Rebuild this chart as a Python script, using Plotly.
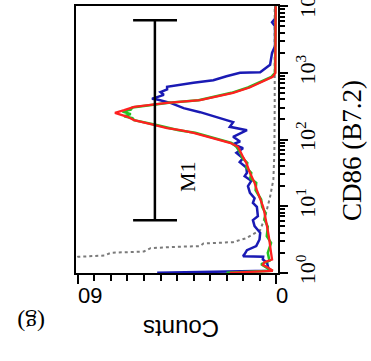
import plotly.graph_objects as go

# ---- data (log10 CD86 channel, counts) ----
red_log = [0.0, 0.03, 0.08, 0.12, 0.16, 0.2, 0.3, 0.45, 0.55, 0.69, 0.8, 0.9, 0.99, 1.1, 1.24, 1.35, 1.42, 1.5,
           1.58, 1.65, 1.72, 1.8, 1.89, 1.95, 1.99, 2.05, 2.10, 2.14, 2.17, 2.22, 2.29, 2.34, 2.37, 2.40, 2.44,
           2.47, 2.49, 2.52, 2.55, 2.59, 2.65, 2.70, 2.78, 2.85, 2.94, 3.0, 4.0]
red_cnt = [14, 1, 2.5, 4, 3.5, 1.2, 1.5, 1.8, 2.2, 2.7, 3.0, 3.5, 3.9, 4.8, 5.8, 6.5, 7.2, 7.9,
           8.5, 9, 9.8, 10.5, 11.5, 14, 17, 21, 25, 29, 33, 37, 43, 45, 47, 48.8, 46,
           44, 43, 38, 33, 23, 18, 13, 8, 4.8, 1, 0.2, 0.1]

green_log = [0.0, 0.03, 0.08, 0.13, 0.18, 0.3, 0.45, 0.55, 0.69, 0.8, 0.9, 0.99, 1.1, 1.24, 1.35, 1.42, 1.5,
             1.58, 1.65, 1.72, 1.8, 1.89, 1.95, 1.99, 2.05, 2.10, 2.14, 2.17, 2.22, 2.29, 2.32, 2.35, 2.38,
             2.42, 2.45, 2.48, 2.52, 2.55, 2.59, 2.65, 2.70, 2.78, 2.85, 2.94, 3.0, 4.0]
green_cnt = [15, 1, 3, 4.5, 2, 2.5, 1.5, 2.8, 2.5, 3.5, 3.2, 4.2, 4.5, 6.2, 6, 7.8, 7.5,
             9, 8.7, 10.2, 10.8, 12, 13.5, 16.5, 21.5, 24.5, 29.5, 32, 36.5, 43, 43.5, 46, 44,
             46.5, 44, 43.5, 37, 32.5, 23.5, 18.5, 13.5, 8.5, 5.2, 1.4, 0.3, 0.1]

blue_log = [0.0, 0.03, 0.1, 0.15, 0.2, 0.24, 0.25, 0.28, 0.34, 0.4, 0.5, 0.6, 0.7, 0.79, 0.85, 0.99, 1.05,
            1.12, 1.2, 1.3, 1.38, 1.45, 1.5, 1.58, 1.66, 1.72, 1.8, 1.87, 1.93, 1.97, 2.04, 2.09, 2.14,
            2.19, 2.26, 2.32, 2.41, 2.47, 2.55, 2.6, 2.61, 2.67, 2.71, 2.75, 2.79, 2.85, 2.89, 2.95, 3.0,
            3.01, 3.12, 3.3, 3.4, 3.7, 3.76, 3.82, 4.0]
blue_cnt = [36, 2, 2.5, 2.7, 4, 3.9, 10, 9.5, 8.8, 6, 5, 4.8, 6.5, 7, 5.5, 5.8, 7,
            6.5, 7.9, 8.5, 7.5, 9.5, 8.8, 9, 11, 10, 12, 10, 13, 10.9, 13, 11, 8.8,
            14, 13, 17, 23, 28, 32, 36, 37.6, 34, 35, 33, 33, 25, 19, 15, 10.9,
            4.8, 1.8, 1.2, 0.3, 0.3, 1.2, 0.2, 0.2]

gray_log = [0.0, 0.2, 0.24, 0.26, 0.3, 0.32, 0.37, 0.39, 0.4, 0.44, 0.46, 0.52, 0.6, 0.64, 0.84, 1.14,
            1.4, 1.8, 2.5, 4.0]
gray_cnt = [70, 62, 60, 52, 50, 40, 38, 30, 23, 22, 13, 9, 6, 4.8, 3.3, 1.8, 0.8, 0.5, 0.4, 0.4]

# M1 gate marker (counts position, log range)
m1_count = 36.7
m1_cap = [43.3, 30.0]
m1_log = [0.79, 3.79]

count_ticks = [0, 60]
cd86_ticks = [1, 10, 100, 1000, 10000]
cd86_ticktext = ["10<sup>0</sup>", "10<sup>1</sup>", "10<sup>2</sup>", "10<sup>3</sup>", "10<sup>4</sup>"]

fig = go.Figure()

def ex(v):
    return [10 ** a for a in v]

fig.add_trace(go.Scatter(x=gray_cnt, y=ex(gray_log), mode="lines",
                         line=dict(color="#7a7a7a", width=2, dash="dot"), hoverinfo="skip"))
fig.add_trace(go.Scatter(x=blue_cnt, y=ex(blue_log), mode="lines",
                         line=dict(color="#1a1ab4", width=2.5), hoverinfo="skip"))
fig.add_trace(go.Scatter(x=green_cnt, y=ex(green_log), mode="lines",
                         line=dict(color="#22c422", width=2.5), hoverinfo="skip"))
fig.add_trace(go.Scatter(x=red_cnt, y=ex(red_log), mode="lines",
                         line=dict(color="#ff2020", width=2.3), hoverinfo="skip"))

# M1 marker
mx = [m1_count, m1_count, None, m1_cap[0], m1_cap[1], None, m1_cap[0], m1_cap[1]]
my = [10 ** m1_log[0], 10 ** m1_log[1], None, 10 ** m1_log[0], 10 ** m1_log[0], None,
      10 ** m1_log[1], 10 ** m1_log[1]]
fig.add_trace(go.Scatter(x=mx, y=my, mode="lines", line=dict(color="black", width=2.5), hoverinfo="skip"))

minor_log = [m * 10 ** k for k in range(4) for m in range(2, 10)]

fig.update_xaxes(range=[60.6, -0.6], tickvals=count_ticks, ticktext=[str(t) for t in count_ticks],
                 tickangle=180, ticks="outside", ticklen=9, tickwidth=1.5, tickcolor="black", automargin=False,
                 minor=dict(tickvals=list(range(5, 60, 5)), ticks="outside", ticklen=6, tickcolor="black", tickwidth=1.5),
                 showgrid=False, zeroline=False, showline=True, linecolor="black", linewidth=2, mirror=True,
                 tickfont=dict(family="Liberation Sans", size=22, color="black"))
fig.update_yaxes(type="log", range=[-0.003, 4.003], side="right", tickvals=cd86_ticks, ticktext=cd86_ticktext,
                 tickangle=-90, ticks="outside", ticklen=8, tickwidth=2, tickcolor="black", automargin=False,
                 ticklabeloverflow="allow", ticklabelstandoff=1,
                 minor=dict(tickvals=minor_log, ticks="outside", ticklen=5, tickcolor="black", tickwidth=1.5),
                 showgrid=False, zeroline=False, showline=True, linecolor="black", linewidth=2, mirror=True,
                 tickfont=dict(family="Liberation Serif", size=22, color="black"))

fig.add_annotation(text="M1", x=27, y=1.45, xref="x", yref="y", showarrow=False, textangle=-90,
                   xanchor="center", yanchor="middle",
                   font=dict(family="Liberation Serif", size=22, color="black"))
fig.add_annotation(text="Counts", x=0.52, y=-0.21, xref="paper", yref="paper", showarrow=False,
                   textangle=180, xanchor="center", yanchor="middle",
                   font=dict(family="Liberation Sans", size=24, color="black"))
fig.add_annotation(text="(g)", x=-0.22, y=-0.185, xref="paper", yref="paper", showarrow=False,
                   textangle=180, xanchor="center", yanchor="middle",
                   font=dict(family="Liberation Serif", size=24, color="black"))
fig.add_annotation(text="CD86 (B7.2)", x=1.365, y=0.46, xref="paper", yref="paper", showarrow=False,
                   textangle=-90, xanchor="center", yanchor="middle",
                   font=dict(family="Liberation Serif", size=27, color="black"))

fig.update_layout(width=371, height=361, margin=dict(l=76, r=93, t=6, b=88),
                  paper_bgcolor="white", plot_bgcolor="white", showlegend=False)

fig.write_html("out.html", config={"displayModeBar": False},
               post_script="document.body.style.margin='0';document.body.style.overflow='hidden';")
